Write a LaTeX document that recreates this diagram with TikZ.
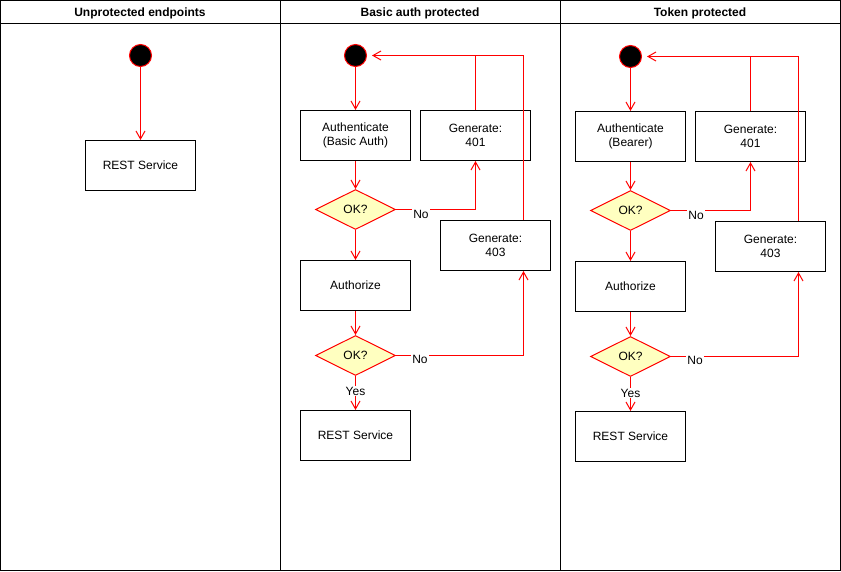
\documentclass[tikz,border=0pt]{standalone}
\usepackage{fontspec}
\setmainfont{Liberation Sans}
\usetikzlibrary{arrows.meta,shapes.geometric}
\definecolor{edge}{HTML}{FF0000}
\definecolor{dfill}{HTML}{FFFFC0}
\begin{document}
\begin{tikzpicture}[x=1pt,y=-1pt,line width=1pt,
  txt/.style={font=\fontsize{12}{14}\selectfont},
  box/.style={txt,draw=black,fill=white,minimum width=110pt,minimum height=50pt,inner sep=0pt,align=center},
  dec/.style={txt,shape=diamond,draw=edge,fill=dfill,minimum width=80pt,minimum height=40pt,inner sep=0pt,shape aspect=2},
  startdot/.style={circle,draw=edge,fill=black,minimum size=22pt,inner sep=0pt},
  flow/.style={draw=edge,-{Straight Barb[length=8pt,width=9pt]}},
  plain/.style={draw=edge},
  lbl/.style={txt,fill=white,inner sep=1pt},
  head/.style={font=\fontsize{12}{14}\selectfont\bfseries}]
\useasboundingbox (0,0) rectangle (841,571);
% frame
\draw[black] (0.5,0.5) rectangle (840.5,570.5);
\draw[black] (0.5,23.5) -- (840.5,23.5);
\draw[black] (280.5,0.5) -- (280.5,570.5);
\draw[black] (560.5,0.5) -- (560.5,570.5);
\node[head] (h1) at (140,13) {Unprotected endpoints};
\node[head] (h2) at (420,13) {Basic auth protected};
\node[head] (h3) at (700,13) {Token protected};

% column 1
\node[startdot] (s1) at (140.5,55.5) {};
\node[box] (r1) at (140.5,165.5) {REST Service};
\draw[flow] (s1) -- (r1);

% column 2
\node[startdot] (s2) at (355.5,55.5) {};
\node[box] (a2) at (355.5,135.5) {Authenticate\\(Basic Auth)};
\node[dec] (d2a) at (355.5,209.5) {OK?};
\node[box] (g2a) at (475.5,135.5) {Generate:\\401};
\node[box] (g2b) at (495.5,245.5) {Generate:\\403};
\node[box] (z2) at (355.5,285.5) {Authorize};
\node[dec] (d2b) at (355.5,355.5) {OK?};
\node[box] (r2) at (355.5,435.5) {REST Service};
\draw[flow] (s2) -- (a2);
\draw[flow] (a2) -- (d2a);
\draw[flow] (d2a) -- (z2);
\draw[flow] (z2) -- (d2b);
\draw[flow] (d2b) -- (r2);
\draw[flow] (d2a.east) -- (475.5,209.5) -- (g2a.south);
\draw[flow] (d2b.east) -- (523.5,355.5) -- ([xshift=28pt]g2b.south);
\draw[flow,shorten >=5pt] (g2a.north) |- (s2.east);
\draw[plain] ([xshift=28pt]g2b.north) -- (523.5,55.5) -- (475.5,55.5);
\node[lbl] (n2a) at (421,214) {No};
\node[lbl] (n2b) at (420,359) {No};
\node[lbl] (y2) at (355.5,391) {Yes};

% column 3
\node[startdot] (s3) at (630.5,56.5) {};
\node[box] (a3) at (630.5,136.5) {Authenticate\\(Bearer)};
\node[dec] (d3a) at (630.5,210.5) {OK?};
\node[box] (g3a) at (750.5,136.5) {Generate:\\401};
\node[box] (g3b) at (770.5,246.5) {Generate:\\403};
\node[box] (z3) at (630.5,286.5) {Authorize};
\node[dec] (d3b) at (630.5,356.5) {OK?};
\node[box] (r3) at (630.5,436.5) {REST Service};
\draw[flow] (s3) -- (a3);
\draw[flow] (a3) -- (d3a);
\draw[flow] (d3a) -- (z3);
\draw[flow] (z3) -- (d3b);
\draw[flow] (d3b) -- (r3);
\draw[flow] (d3a.east) -- (750.5,210.5) -- (g3a.south);
\draw[flow] (d3b.east) -- (798.5,356.5) -- ([xshift=28pt]g3b.south);
\draw[flow,shorten >=5pt] (g3a.north) |- (s3.east);
\draw[plain] ([xshift=28pt]g3b.north) -- (798.5,56.5) -- (750.5,56.5);
\node[lbl] (n3a) at (696,215) {No};
\node[lbl] (n3b) at (695,360) {No};
\node[lbl] (y3) at (630.5,393) {Yes};
\end{tikzpicture}
\end{document}
